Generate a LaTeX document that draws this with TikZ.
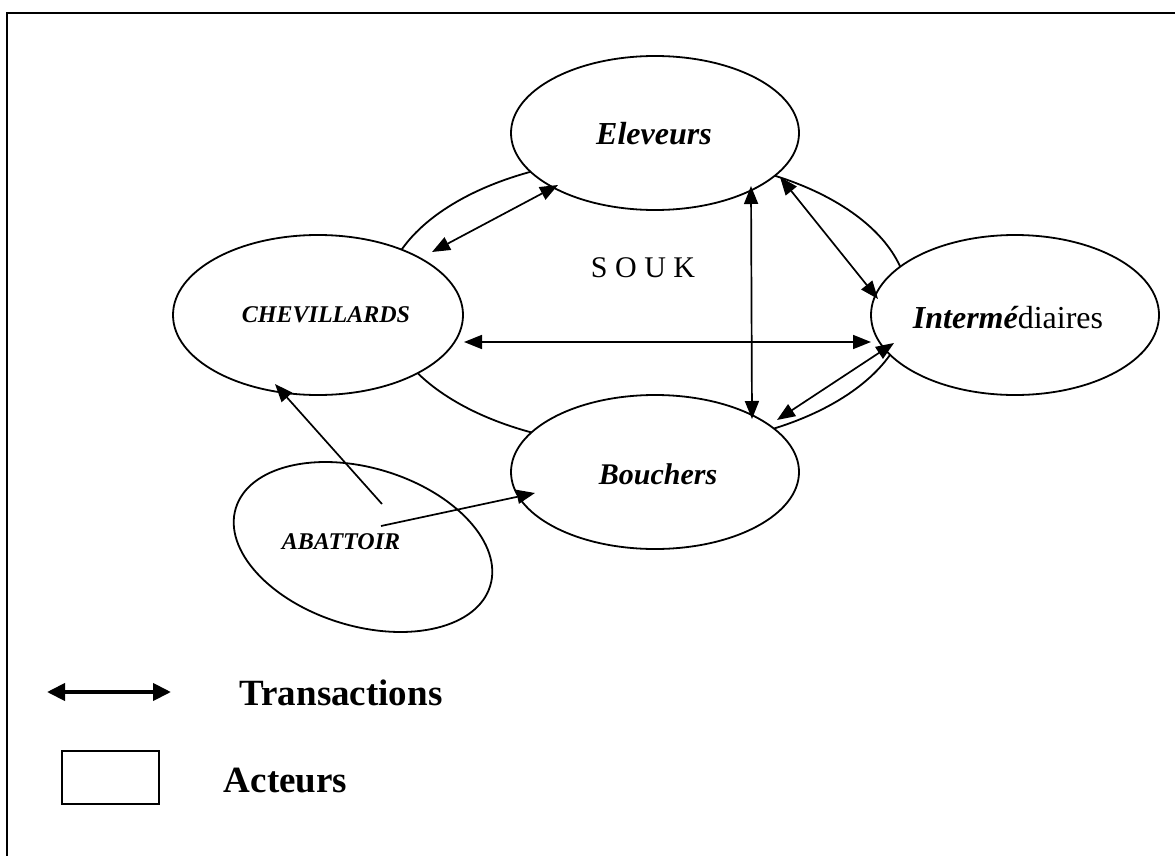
\documentclass[tikz,border=0pt]{standalone}
\usepackage{fontspec}
\setmainfont{Liberation Serif}
\usetikzlibrary{shapes.geometric,arrows.meta,calc}

\tikzset{
  actor/.style={ellipse, draw, fill=white, line width=1.8pt, inner sep=0pt, outer sep=0pt},
  label/.style={anchor=base, inner sep=0pt},
  flow/.style={line width=1.7pt, -{Triangle[length=18pt,width=14pt]}},
  twoway/.style={line width=1.7pt, {Triangle[length=18pt,width=14pt]}-{Triangle[length=18pt,width=14pt]}},
  bi/.style={font=\fontsize{#1}{#1}\selectfont\bfseries\itshape},
}

\begin{document}
\begin{tikzpicture}[x=1pt, y=-1pt]
\useasboundingbox (0,0) rectangle (1175,856);

% page frame
\draw[line width=2pt] (7,860) -- (7,13) -- (1180,13);

% market ring (souk) behind the actors
\draw[line width=1.8pt] (646,302) ellipse [x radius=262, y radius=145];

% actors
\node[actor, minimum width=288pt, minimum height=154pt] (E) at (655,133) {};
\node[actor, minimum width=290pt, minimum height=160pt] (C) at (318,315) {};
\node[actor, minimum width=288pt, minimum height=160pt] (I) at (1015,315) {};
\node[actor, minimum width=288pt, minimum height=154pt] (B) at (655,472) {};
\node[actor, minimum width=266pt, minimum height=158pt, rotate=-17] (A) at (363,547) {};

% transactions
\draw[twoway] ($(C)+(114,-63)$) -- ($(E)+(-97,52)$);
\draw[twoway] ($(E)+(96,53)$) -- ($(B)+(97,-53)$);
\draw[twoway] ($(E)+(125,44)$) -- ($(I)+(-137,-16)$);
\draw[twoway] ($(C)+(146,27)$) -- ($(I)+(-144,27)$);
\draw[twoway] ($(I)+(-121,28)$) -- ($(B)+(122,-52)$);
\draw[flow] ($(A)+(19,-43)$) -- ($(C)+(-43,69)$);
\draw[flow] ($(A)+(18,-21)$) -- ($(B)+(-120,21)$);

% actor names
\node[label, bi=32] (Et) at (654,145) {Eleveurs};
\node[label, bi=24] (Ct) at (326,322) {CHEVILLARDS};
\node[label, font=\fontsize{32}{32}\selectfont] (It) at (1008,328) {{\bfseries\itshape Intermé}diaires};
\node[label, bi=30] (Bt) at (658,484) {Bouchers};
\node[label, bi=24] (At) at (341,549) {ABATTOIR};
\node[label, font=\fontsize{30}{30}\selectfont] (S) at (643,277) {S O U K};

% legend
\coordinate (l1) at (47,692);
\coordinate (l2) at (171,692);
\draw[line width=4pt, {Triangle[length=18pt,width=17pt]}-{Triangle[length=18pt,width=17pt]}] (l1) -- (l2);
\node[draw, line width=1.5pt, minimum width=97pt, minimum height=53pt, inner sep=0pt] (key) at (110.5,777.5) {};
\node[label, font=\fontsize{37}{37}\selectfont\bfseries] (Tt) at (341,705) {Transactions};
\node[label, font=\fontsize{37}{37}\selectfont\bfseries] (At2) at (285.5,792) {Acteurs};
\end{tikzpicture}
\end{document}
